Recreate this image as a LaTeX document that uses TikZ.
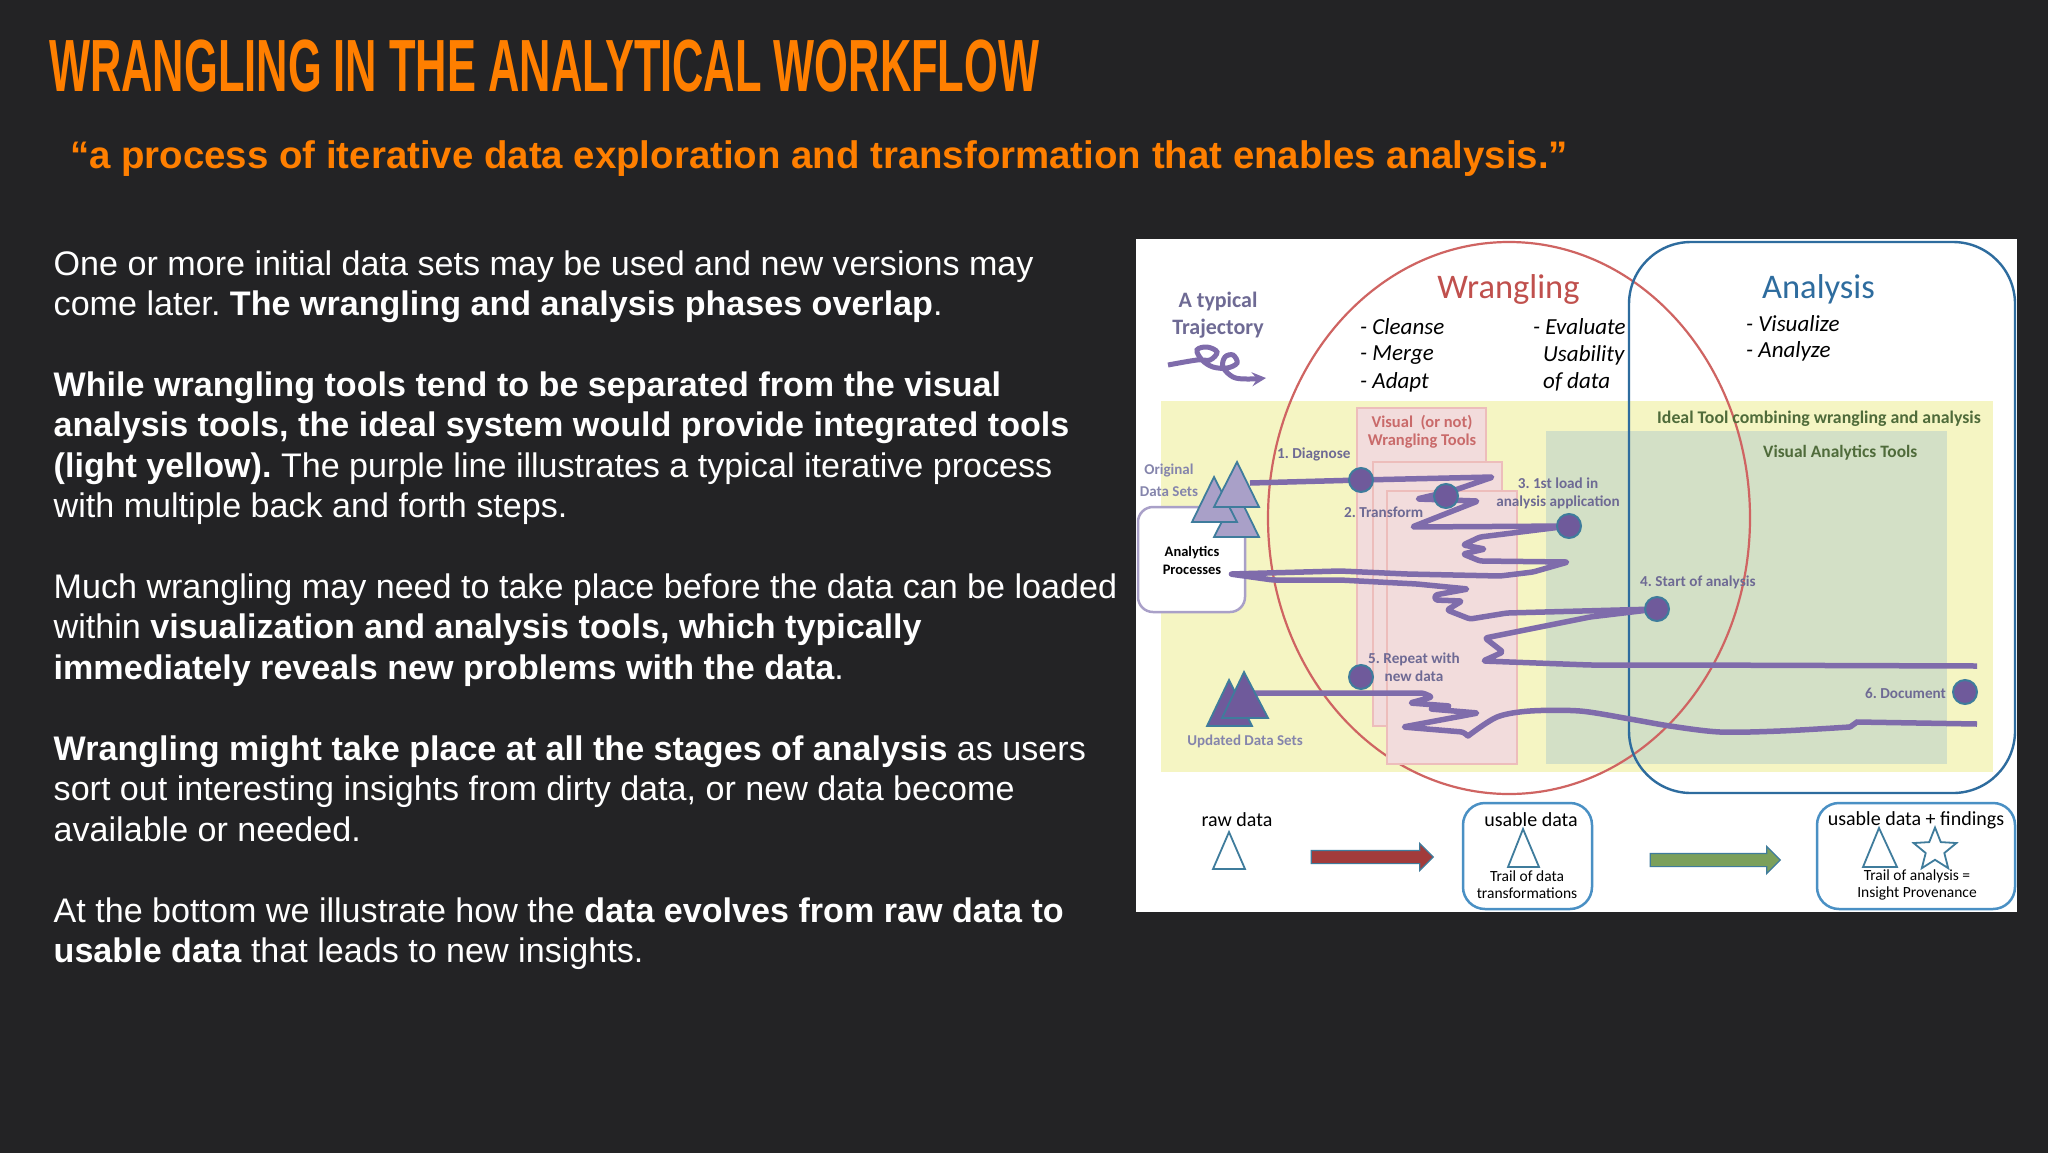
\documentclass[tikz,border=0pt]{standalone}
\usepackage{fontspec}
\setmainfont{Liberation Sans}
\newfontfamily\calfont{Carlito}
\newfontfamily\headfont[FakeStretch=0.587]{Liberation Sans Bold}
\usetikzlibrary{shapes.geometric,shapes.arrows}
\definecolor{slatebg}{HTML}{232325}
\definecolor{headorange}{HTML}{FF7F00}
\definecolor{toolyellow}{HTML}{F5F5C3}
\definecolor{toolgreen}{HTML}{D3E0C6}
\definecolor{toolpink}{HTML}{F2DCDC}
\definecolor{pinkedge}{HTML}{EDBDBB}
\definecolor{wrangred}{HTML}{CF6462}
\definecolor{wrangtext}{HTML}{C0504D}
\definecolor{analysisblue}{HTML}{2E6C9E}
\definecolor{tealedge}{HTML}{3F7C9C}
\definecolor{boxblue}{HTML}{4A90C4}
\definecolor{trailpurple}{HTML}{7F6CAB}
\definecolor{dotpurple}{HTML}{6F5A9B}
\definecolor{labelpurple}{HTML}{6E6A94}
\definecolor{softpurple}{HTML}{8585AC}
\definecolor{lightpurple}{HTML}{A9A0C8}
\definecolor{labelgreen}{HTML}{4F6B3A}
\definecolor{labelred}{HTML}{C96A6A}
\definecolor{arrowred}{HTML}{A23B3B}
\definecolor{arrowgreen}{HTML}{7BA05B}

\begin{document}
\begin{tikzpicture}[x=1pt, y=-1pt]
	\tikzstyle{para}=[anchor=north west, align=left, inner sep=0pt, text=white, font=\fontsize{34.1}{40.4}\selectfont\frenchspacing]
	\tikzstyle{tool}=[draw=pinkedge, line width=1.2pt, fill=toolpink]
	\tikzstyle{dot}=[draw=tealedge, line width=2pt, fill=dotpurple, circle, inner sep=0pt, minimum size=24pt]
	\tikzstyle{trail}=[draw=trailpurple, line width=5.5pt, line join=round, rounded corners=2.5pt]
	\tikzstyle{tri}=[draw=tealedge, line width=1.8pt, line join=miter]
	\tikzstyle{steplabel}=[inner sep=0pt, align=center, text=labelpurple, font=\calfont\bfseries\fontsize{15.2}{18}\selectfont\frenchspacing]
	\tikzstyle{softlabel}=[inner sep=0pt, align=center, text=softpurple, font=\calfont\bfseries\fontsize{15}{22}\selectfont]
	\tikzstyle{itemlist}=[anchor=west, inner sep=0pt, font=\calfont\itshape\fontsize{23}{27}\selectfont]
	\tikzstyle{biglabel}=[inner sep=0pt, font=\calfont\fontsize{34.5}{36}\selectfont]
	\tikzstyle{stage}=[inner sep=0pt, font=\calfont\fontsize{20}{22}\selectfont]
	\tikzstyle{trailnote}=[inner sep=0pt, align=center, font=\calfont\fontsize{15.5}{17}\selectfont]
	\tikzstyle{stagebox}=[draw=boxblue, line width=2.5pt, rounded corners=22pt]
	\tikzstyle{blockarrow}=[single arrow, draw=tealedge, line width=1.2pt, inner sep=6pt, minimum height=122pt, single arrow head extend=7pt]
	\useasboundingbox (0,0) rectangle (2048,1152);
	\fill[slatebg] (-2,-2) rectangle (2050,1154);

	\node[anchor=base west, inner sep=0pt, text=headorange, font=\headfont\fontsize{74}{80}\selectfont] (title) at (49,91) {WRANGLING IN THE ANALYTICAL WORKFLOW};
	\node[anchor=base west, inner sep=0pt, text=headorange, font=\bfseries\fontsize{38.4}{42}\selectfont] (quote) at (70,168) {“a process of iterative data exploration and transformation that enables analysis.”};

	\node[para] (p1) at (53.5,250.5) {One or more initial data sets may be used and new versions may\\come later. \textbf{The wrangling and analysis phases overlap}.};
	\node[para] (p2) at (53.5,371.5) {\textbf{While wrangling tools tend to be separated from the visual}\\\textbf{analysis tools, the ideal system would provide integrated tools}\\\textbf{(light yellow).} The purple line illustrates a typical iterative process\\with multiple back and forth steps.};
	\node[para] (p3) at (53.5,573.5) {Much wrangling may need to take place before the data can be loaded\\within \textbf{visualization and analysis tools, which typically}\\\textbf{immediately reveals new problems with the data}.};
	\node[para] (p4) at (53.5,735.5) {\textbf{Wrangling might take place at all the stages of analysis} as users\\sort out interesting insights from dirty data, or new data become\\available or needed.};
	\node[para] (p5) at (53.5,897.5) {At the bottom we illustrate how the \textbf{data evolves from raw data to}\\\textbf{usable data} that leads to new insights.};

	\fill[white] (1136,239) rectangle (2017,912);
	\fill[toolyellow] (1161,401) rectangle (1993,772);
	\fill[toolgreen] (1546,431) rectangle (1947,764);
	\draw[wrangred, line width=2.2pt] (1509,518) ellipse [x radius=241, y radius=276];
	\draw[tool] (1357,408) rectangle (1486,672);
	\draw[tool] (1373,462) rectangle (1502,726);
	\draw[tool] (1387,491) rectangle (1517,764);
	\draw[analysisblue, line width=2.4pt, rounded corners=62pt] (1629,242) rectangle (2015,793);

	\node[draw=lightpurple, line width=2.5pt, fill=white, rounded corners=15pt, minimum width=107pt, minimum height=105pt, inner sep=0pt] (procbox) at (1191.5,559.5) {};
	\node[steplabel, text=black, font=\calfont\bfseries\fontsize{14.5}{18}\selectfont] (proc) at (1192,560.5) {Analytics\\Processes};

	\coordinate (orig) at (1250,483);
	\coordinate (upd) at (1252,693);
	\coordinate (procend) at (1230,574);
	\coordinate (ptdiagnose) at (1361,480);
	\coordinate (ptload) at (1569,526);
	\coordinate (ptstart) at (1657,609);
	\coordinate (ptturn) at (1468,736);
	\draw[trail] (orig) -- (ptdiagnose) -- (1493,477) -- (1455,490) -- (1417,499) -- (1478,501) -- (1412,527) -- (ptload) -- (1480,537) -- (1463,545) -- (1485,549) -- (1463,554) -- (1480,561) -- (1568,562) -- (1533,572) -- (1500,576) -- (1407,574) -- (1340,571) -- (procend)
		-- (1273,580) -- (1340,580) -- (1417,584) -- (1468,589) -- (1435,595) -- (1435,600) -- (1462,601) -- (1447,610) -- (1470,619) -- (1507,613) -- (ptstart) -- (1590,617) -- (1485,638) -- (1503,652) -- (1483,661) -- (1590,665) -- (1680,665) -- (1977,666);
	\draw[trail] (upd) -- (1423,693) -- (1432,697) -- (1410,703) -- (1450,706) -- (1430,709) -- (1478,713) -- (1403,727) -- (1463,732) -- (ptturn);
	\draw[trailpurple, line width=5.5pt, line cap=round] plot[smooth, tension=.5] coordinates {(ptturn) (1497,717) (1530,711) (1580,711) (1630,719) (1670,726) (1720,732) (1780,731) (1850,727)};
	\draw[trailpurple, line width=5.5pt] (1850,727) -- (1857,722) -- (1977,724);

	\node[dot] (diagnose) at (ptdiagnose) {};
	\node[dot] (transform) at (1446,496) {};
	\node[dot] (load) at (ptload) {};
	\node[dot] (start) at (ptstart) {};
	\node[dot] (repeat) at (1361,677) {};
	\node[dot] (document) at (1965,692) {};

	\draw[tri, fill=lightpurple] (1237,492) -- (1214,537) -- (1259,537) -- cycle;
	\draw[tri, fill=lightpurple] (1214,477) -- (1192,522) -- (1237,522) -- cycle;
	\draw[tri, fill=lightpurple] (1237,462) -- (1214,507) -- (1259,507) -- cycle;
	\draw[tri, fill=dotpurple] (1229,680) -- (1207,726) -- (1252,726) -- cycle;
	\draw[tri, fill=dotpurple] (1244,672) -- (1222,718) -- (1268,718) -- cycle;

	\node[inner sep=0pt, align=center, text=labelpurple, font=\calfont\bfseries\fontsize{22}{27}\selectfont] (typical) at (1218,315.5) {A typical\\Trajectory};
	\draw[trailpurple, line width=5pt, -stealth] plot[smooth, tension=.6] coordinates {(1168,365) (1197,360) (1210,360) (1217,352) (1207,347) (1197,350) (1202,360) (1213,367) (1227,368) (1237,363) (1233,355) (1225,357) (1223,367) (1233,377) (1247,379) (1266,378)};

	\node[biglabel, text=wrangtext] (wrangling) at (1508.5,289) {Wrangling};
	\node[biglabel, text=analysisblue] (analysis) at (1818.5,289) {Analysis};
	\node[itemlist] (cleanse) at (1360,327) {- Cleanse};
	\node[itemlist] (merge) at (1360,355) {- Merge};
	\node[itemlist] (adapt) at (1360,382) {- Adapt};
	\node[itemlist] (evaluate) at (1533,327) {- Evaluate};
	\node[itemlist] (usability) at (1543,355) {Usability};
	\node[itemlist] (ofdata) at (1543,382) {of data};
	\node[itemlist] (visualize) at (1746,324) {- Visualize};
	\node[itemlist] (analyze) at (1746,351) {- Analyze};

	\node[steplabel, anchor=west, text=labelgreen, font=\calfont\bfseries\fontsize{17.8}{19}\selectfont] (ideal) at (1657,419) {Ideal Tool combining wrangling and analysis};
	\node[steplabel, anchor=west, text=labelgreen, font=\calfont\bfseries\fontsize{17.4}{19}\selectfont] (vatools) at (1763,453) {Visual Analytics Tools};
	\node[steplabel, text=labelred, font=\calfont\bfseries\fontsize{16.5}{18.5}\selectfont] (wrtools) at (1422,432) {Visual\ \ (or not)\\Wrangling Tools};

	\node[softlabel] (origlabel) at (1169,480) {Original\\Data Sets};
	\node[softlabel] (updlabel) at (1245,741) {Updated Data Sets};
	\node[steplabel, anchor=west] (step1) at (1277,454) {1. Diagnose};
	\node[steplabel, anchor=west] (step2) at (1344,512) {2. Transform};
	\node[steplabel] (step3) at (1558,493) {3. 1st load in\\analysis application};
	\node[steplabel, anchor=west] (step4) at (1640,582) {4. Start of analysis};
	\node[steplabel] (step5) at (1414,667) {5. Repeat with\\new data};
	\node[steplabel, anchor=west] (step6) at (1865,693) {6. Document};

	\node[stage] (raw) at (1237,820) {raw data};
	\draw[tri, fill=white] (1229,832) -- (1213,869) -- (1245,869) -- cycle;
	\node[blockarrow, fill=arrowred] (arrowa) at (1369,857) {};
	\draw[stagebox] (1463,803) rectangle (1592,909);
	\node[stage] (usable) at (1531,820) {usable data};
	\draw[tri, fill=white] (1523,829) -- (1508,867) -- (1539,867) -- cycle;
	\node[trailnote] (trailone) at (1527,884.5) {Trail of data\\transformations};
	\node[blockarrow, fill=arrowgreen, minimum height=130pt] (arrowb) at (1712,860) {};
	\draw[stagebox] (1817,803) rectangle (2015,909);
	\node[stage] (findings) at (1916,820) {usable data + findings};
	\draw[tri, fill=white] (1879,828) -- (1863,867) -- (1897,867) -- cycle;
	\node[draw=tealedge, line width=1.8pt, fill=white, star, star points=5, star point ratio=2.3, inner sep=0pt, minimum size=45pt] (insight) at (1935,850) {};
	\node[trailnote] (trailtwo) at (1917,884.5) {Trail of analysis =\\Insight Provenance};
\end{tikzpicture}
\end{document}
